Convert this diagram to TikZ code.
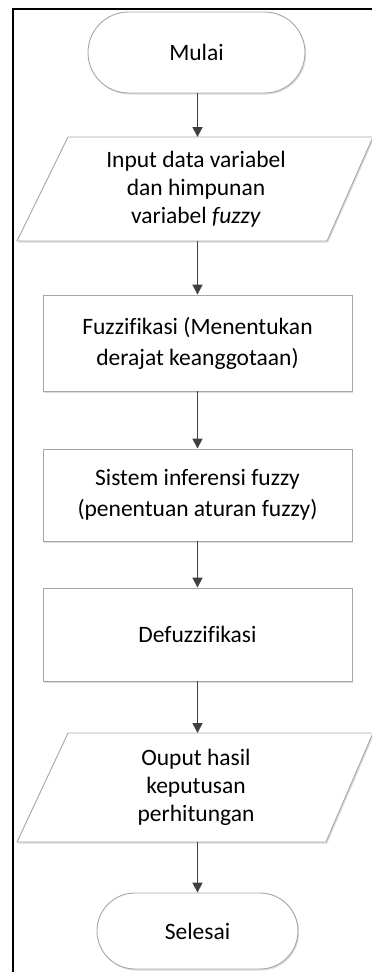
\documentclass[tikz,border=0pt]{standalone}
\usepackage{fontspec}
\setmainfont{Carlito}[Ligatures=NoCommon]
\usetikzlibrary{shapes.misc,shadows,arrows.meta}
\definecolor{edgegray}{HTML}{A6A6A6}
\definecolor{arrowgray}{HTML}{404040}
\tikzset{
  shapeshadow/.style={drop shadow={shadow xshift=1.2pt,shadow yshift=-1.5pt,fill=black!30,opacity=0.45}},
  termbox/.style={rounded rectangle,draw=edgegray,line width=0.9pt,fill=white,shapeshadow,inner sep=0pt,font=\fontsize{23.5}{28}\selectfont},
  procbox/.style={rectangle,draw=edgegray,line width=0.9pt,fill=white,shapeshadow,inner sep=0pt,minimum width=309pt,align=center,font=\fontsize{23.5}{31}\selectfont},
  iobox/.style={draw=edgegray,line width=0.9pt,fill=white,shapeshadow},
  iotext/.style={align=center,inner sep=0pt,font=\fontsize{23.5}{28}\selectfont},
  arr/.style={draw=arrowgray,line width=1.7pt,-{Triangle[length=10pt,width=10pt]}},
}
\begin{document}
\begin{tikzpicture}[x=1pt,y=-1pt]
\useasboundingbox (0,0) rectangle (372,972);
% frame
\draw[black,line width=2pt] (12.5,980) -- (12.5,8.5) -- (380,8.5);
% shapes
\node[termbox,minimum width=217pt,minimum height=81pt] (mulai) at (196.5,52.5) {Mulai};
\path[iobox] (68,137) -- (373,137) -- (327,241) -- (17,241) -- cycle;
\coordinate (intop) at (197.5,137);
\coordinate (inbot) at (197.5,241);
\node[iotext] (input) at (196,189) {Input data variabel\\dan himpunan\\variabel \textit{fuzzy}};
\node[procbox,minimum height=96pt] (fuzz) at (197.5,343) {Fuzzifikasi (Menentukan\\derajat keanggotaan)};
\node[procbox,minimum height=92pt] (sistem) at (197.5,495) {Sistem inferensi fuzzy\\(penentuan aturan fuzzy)};
\node[procbox,minimum height=93pt] (defuzz) at (197.5,634.5) {Defuzzifikasi};
\path[iobox] (68,733) -- (373,733) -- (326,842) -- (17,842) -- cycle;
\coordinate (outtop) at (197.5,733);
\coordinate (outbot) at (197.5,842);
\node[iotext] (output) at (196,787.5) {Ouput hasil\\keputusan\\perhitungan};
\node[termbox,minimum width=201pt,minimum height=76pt] (selesai) at (197.5,931) {Selesai};
% connectors
\draw[arr] (mulai.south -| intop) -- (intop);
\draw[arr] (inbot) -- (fuzz.north);
\draw[arr] (fuzz.south) -- (sistem.north);
\draw[arr] (sistem.south) -- (defuzz.north);
\draw[arr] (defuzz.south) -- (outtop);
\draw[arr] (outbot) -- (selesai.north);
\end{tikzpicture}
\end{document}
